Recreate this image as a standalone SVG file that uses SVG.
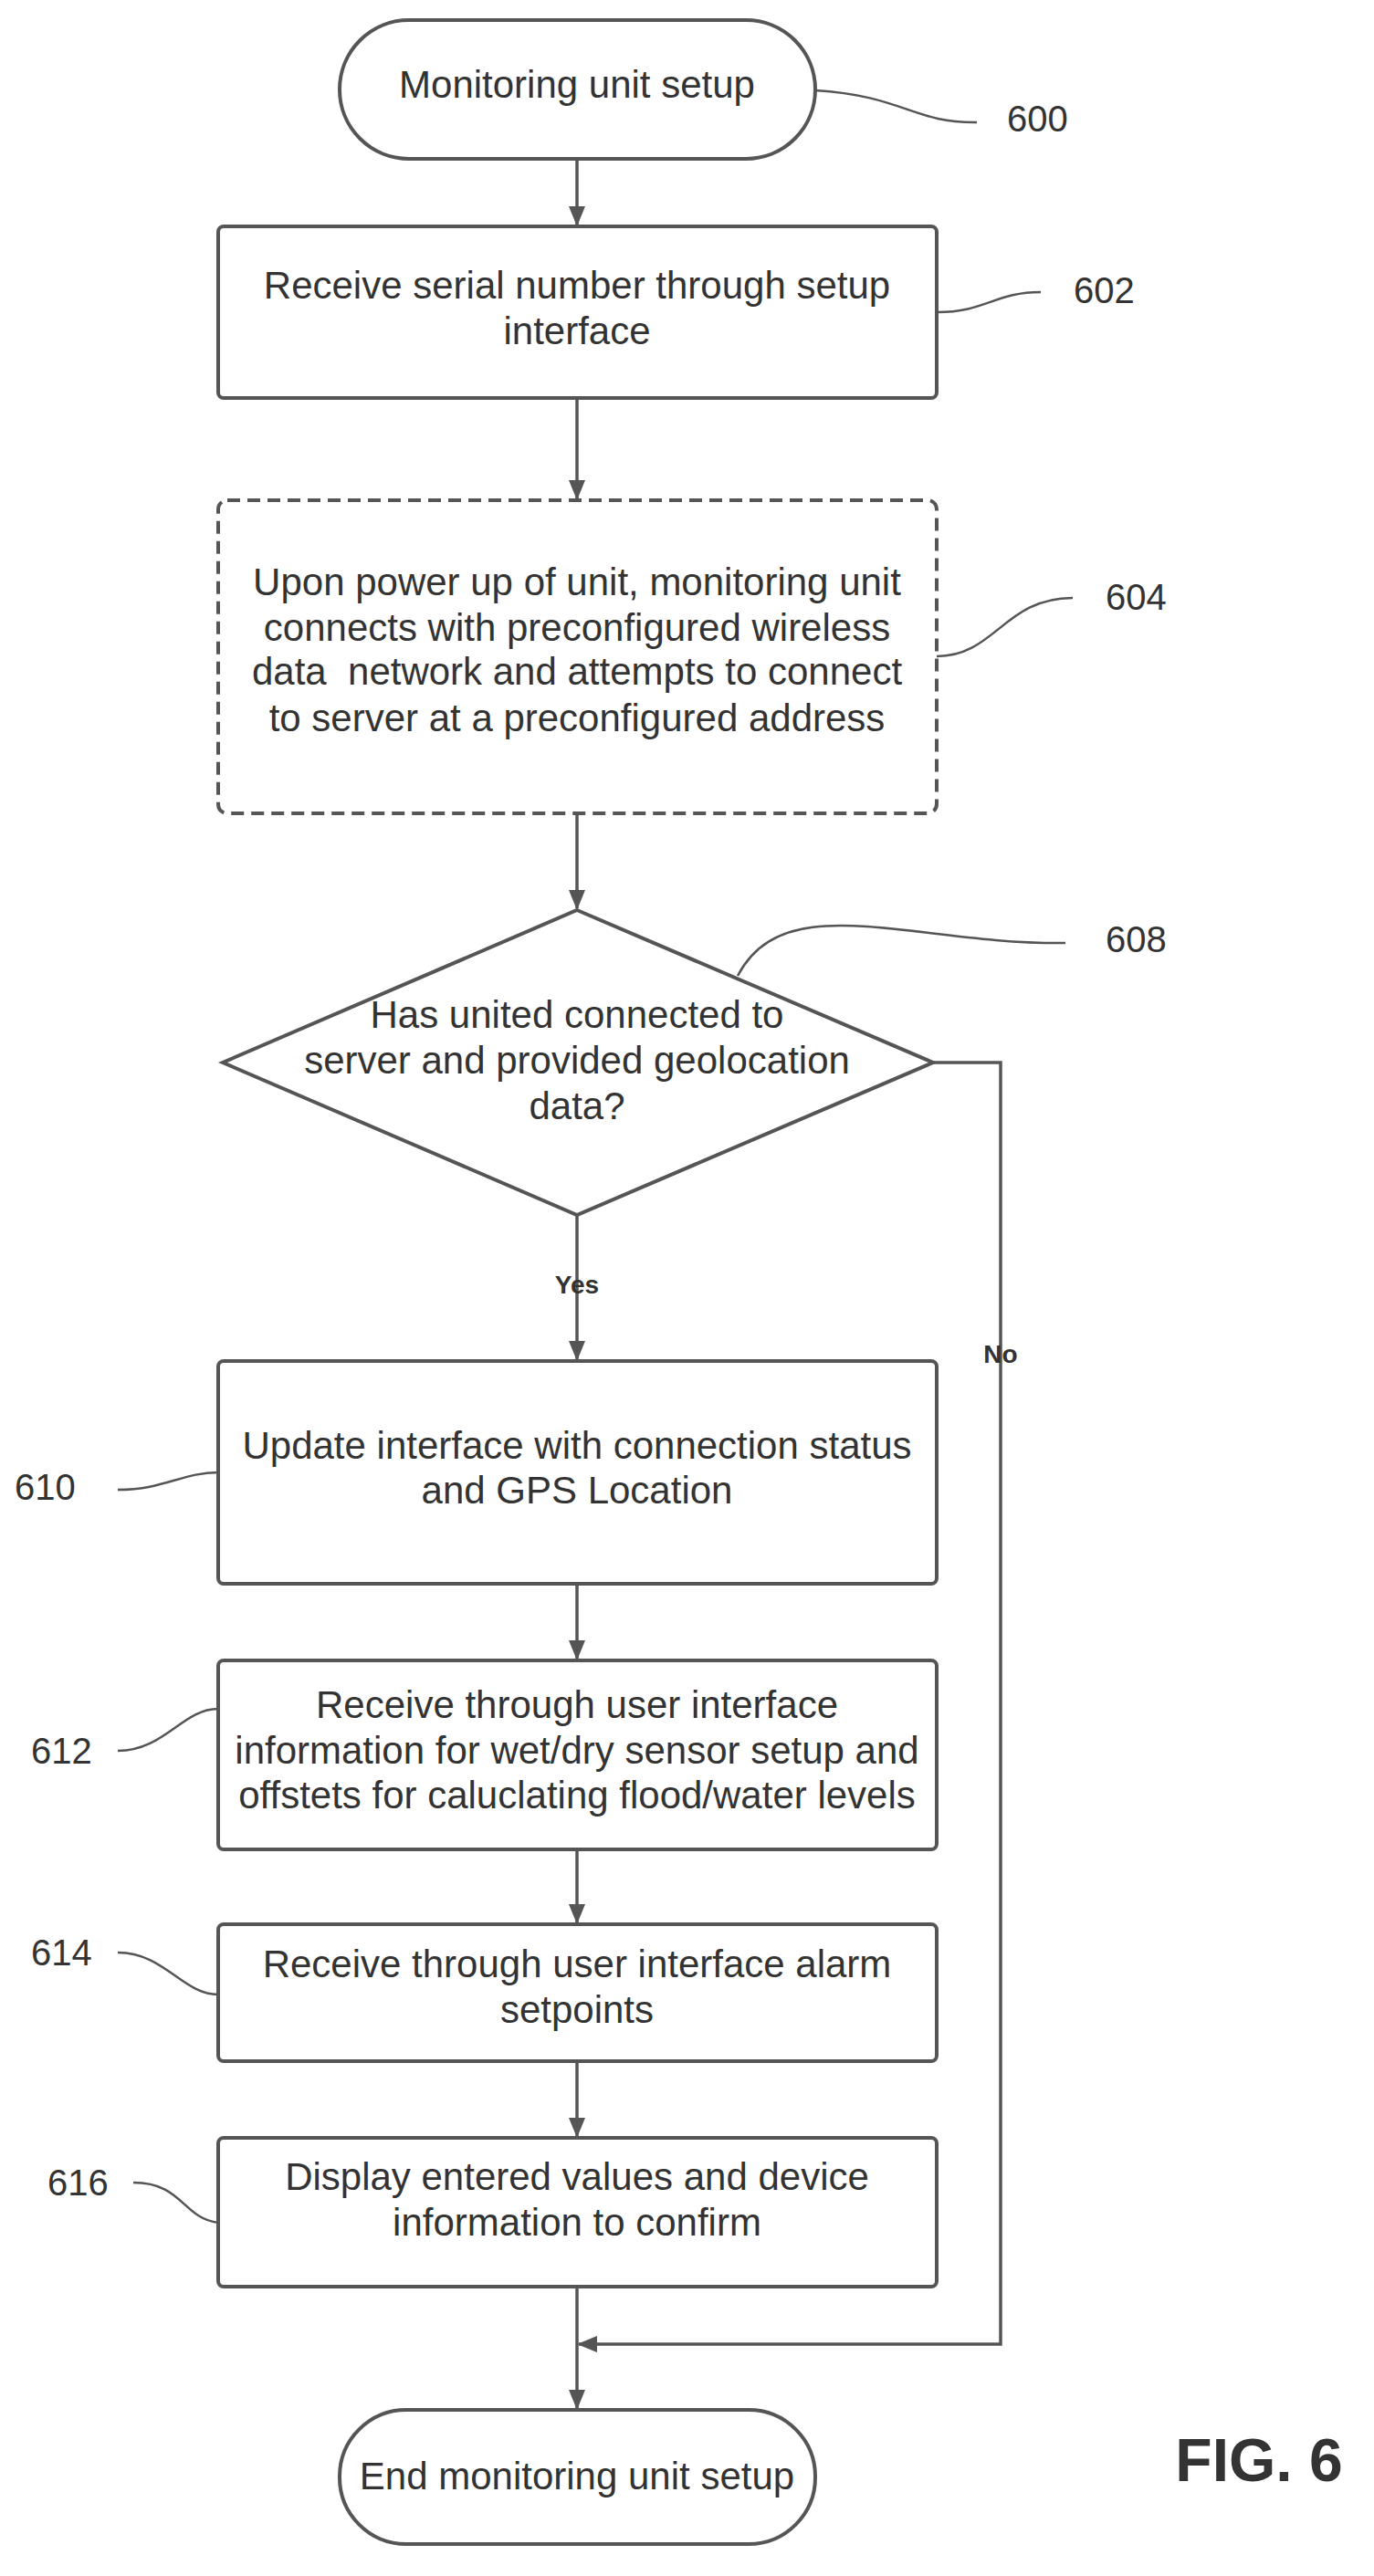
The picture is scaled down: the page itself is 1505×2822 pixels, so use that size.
<svg xmlns="http://www.w3.org/2000/svg" width="1505" height="2822" viewBox="0 0 1505 2822">
<style>
.n{fill:#fff;stroke:#555;stroke-width:4}
.d{stroke-dasharray:14,8}
.t{font-family:"Liberation Sans",Arial,sans-serif;font-size:42px;fill:#333;text-anchor:middle}
.l{font-family:"Liberation Sans",Arial,sans-serif;font-size:40px;fill:#333}
.b{font-family:"Liberation Sans",Arial,sans-serif;font-size:28px;font-weight:bold;fill:#333;text-anchor:middle}
.c{fill:none;stroke:#555;stroke-width:3.5}
.r{fill:none;stroke:#555;stroke-width:2.5}
</style>
<defs><marker id="m" markerWidth="22" markerHeight="22" refX="20" refY="11" orient="auto" markerUnits="userSpaceOnUse"><path d="M0,2 L22,11 L0,20 z" fill="#555"/></marker></defs>
<rect width="1505" height="2822" fill="#fff"/>
<g id="connectors">
<path class="c" d="M632,174 V246" marker-end="url(#m)"/>
<path class="c" d="M632,436 V546" marker-end="url(#m)"/>
<path class="c" d="M632,891 V995" marker-end="url(#m)"/>
<path class="c" d="M632,1331 V1489" marker-end="url(#m)"/>
<path class="c" d="M632,1735 V1817" marker-end="url(#m)"/>
<path class="c" d="M632,2026 V2106" marker-end="url(#m)"/>
<path class="c" d="M632,2258 V2340" marker-end="url(#m)"/>
<path class="c" d="M632,2505 V2638" marker-end="url(#m)"/>
<path class="c" d="M1022,1164 H1096 V2568 H634" marker-end="url(#m)"/>
<text class="b" x="632" y="1417">Yes</text>
<text class="b" x="1096" y="1493">No</text>
</g>
<g id="refs">
<path class="r" d="M893,99 C990,105 1000,135 1070,134"/>
<text class="l" x="1103" y="144">600</text>
<path class="r" d="M1026,342 C1080,342 1090,320 1140,320"/>
<text class="l" x="1176" y="332">602</text>
<path class="r" d="M1026,719 C1090,719 1100,655 1175,655"/>
<text class="l" x="1211" y="668">604</text>
<path class="r" d="M808,1069 C860,970 1000,1035 1167,1033"/>
<text class="l" x="1211" y="1043">608</text>
<path class="r" d="M129,1632 C180,1632 200,1613 239,1613"/>
<text class="l" x="16" y="1643">610</text>
<path class="r" d="M129,1918 C180,1918 200,1872 239,1872"/>
<text class="l" x="34" y="1932">612</text>
<path class="r" d="M129,2139 C180,2139 200,2185 239,2185"/>
<text class="l" x="34" y="2153">614</text>
<path class="r" d="M146,2391 C200,2391 200,2430 239,2435"/>
<text class="l" x="52" y="2405">616</text>
</g>
<g id="n600"><rect class="n" x="372" y="22" width="521" height="152" rx="76"/><text class="t" x="632" y="107">Monitoring unit setup</text></g>
<g id="n602"><rect class="n" x="239" y="248" width="787" height="188" rx="6"/><text class="t" x="632" y="327">Receive serial number through setup</text><text class="t" x="632" y="377">interface</text></g>
<g id="n604"><rect class="n d" x="239" y="548" width="787" height="343" rx="10"/><text class="t" x="632" y="652">Upon power up of unit, monitoring unit</text><text class="t" x="632" y="702">connects with preconfigured wireless</text><text class="t" x="632" y="750" xml:space="preserve">data  network and attempts to connect</text><text class="t" x="632" y="801">to server at a preconfigured address</text></g>
<g id="n608"><path class="n" d="M632,997 L1022,1164 L632,1331 L244,1164 Z"/><text class="t" x="632" y="1126">Has united connected to</text><text class="t" x="632" y="1176">server and provided geolocation</text><text class="t" x="632" y="1226">data?</text></g>
<g id="n610"><rect class="n" x="239" y="1491" width="787" height="244" rx="6"/><text class="t" x="632" y="1598">Update interface with connection status</text><text class="t" x="632" y="1647">and GPS Location</text></g>
<g id="n612"><rect class="n" x="239" y="1819" width="787" height="207" rx="6"/><text class="t" x="632" y="1882">Receive through user interface</text><text class="t" x="632" y="1932">information for wet/dry sensor setup and</text><text class="t" x="632" y="1981">offstets for caluclating flood/water levels</text></g>
<g id="n614"><rect class="n" x="239" y="2108" width="787" height="150" rx="6"/><text class="t" x="632" y="2166">Receive through user interface alarm</text><text class="t" x="632" y="2216">setpoints</text></g>
<g id="n616"><rect class="n" x="239" y="2342" width="787" height="163" rx="6"/><text class="t" x="632" y="2399">Display entered values and device</text><text class="t" x="632" y="2449">information to confirm</text></g>
<g id="n618"><rect class="n" x="372" y="2640" width="521" height="147" rx="73"/><text class="t" x="632" y="2727">End monitoring unit setup</text></g>
<text x="1379" y="2718" style="font-family:'Liberation Sans',Arial,sans-serif;font-size:66px;font-weight:bold;fill:#333;text-anchor:middle">FIG. 6</text>
</svg>
